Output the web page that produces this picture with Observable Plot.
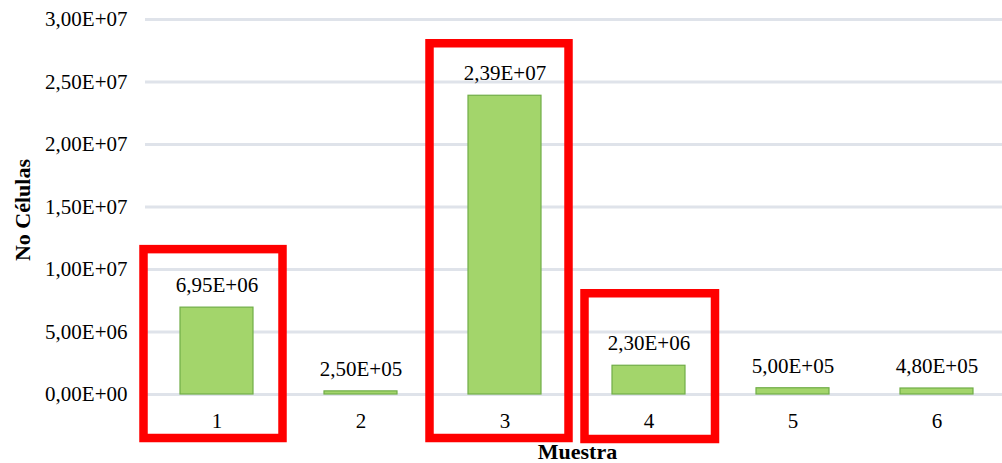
<!DOCTYPE html>
<html>
<head>
<meta charset="utf-8">
<script src="https://cdn.jsdelivr.net/npm/d3@7"></script>
<script src="https://cdn.jsdelivr.net/npm/@observablehq/plot@0.6"></script>
<style>
  html, body { margin: 0; padding: 0; background: #fff; overflow: hidden; }
</style>
</head>
<body>
<div id="chart"></div>
<script>
// Número de células por muestra
const muestras = ["1", "2", "3", "4", "5", "6"];
const celulas = [6.95e6, 2.5e5, 2.39e7, 2.3e6, 5e5, 4.8e5];
// Muestras resaltadas con recuadro rojo
const destacadas = ["1", "3", "4"];
// Marcas del eje vertical
const yTicks = [0, 5e6, 1e7, 1.5e7, 2e7, 2.5e7, 3e7];

const data = muestras.map((m, i) => ({muestra: m, celulas: celulas[i]}));

// Notación científica con coma decimal: 2,39E+07
function sci(v) {
  const [m, e] = v.toExponential(2).split("e");
  const n = Math.abs(+e);
  return m.replace(".", ",") + "E" + (+e < 0 ? "-" : "+") + String(n).padStart(2, "0");
}

const font = "'Liberation Serif', 'Times New Roman', Times, serif";

// Holgura de cada recuadro rojo respecto a su barra (px)
const holgura = {
  "1": {insetLeft: -36.5, insetRight: -29.5, insetTop: -58, insetBottom: -44},
  "3": {insetLeft: -38.5, insetRight: -27.5, insetTop: -52, insetBottom: -44},
  "4": {insetLeft: -27.5, insetRight: -30, insetTop: -72, insetBottom: -45}
};

const recuadros = destacadas.map(m => Plot.barY(data.filter(d => d.muestra === m), {
  x: "muestra", y: "celulas", ...holgura[m],
  fill: "none", stroke: "#ff0000", strokeWidth: 8.5
}));

const chart = Plot.plot({
  width: 1010,
  height: 463,
  marginLeft: 145,
  marginRight: 1,
  marginTop: 19,
  marginBottom: 69,
  style: {fontFamily: font, fontSize: "21px", color: "#000", background: "#fff", maxWidth: "none"},
  x: {type: "band", domain: muestras, paddingInner: 0.493, paddingOuter: 0.2465},
  y: {domain: [0, 3e7]},
  marks: [
    Plot.ruleY(yTicks, {stroke: "#dfe3ea", strokeWidth: 3}),
    Plot.axisY(yTicks, {tickSize: 0, tickPadding: 18, tickFormat: sci, fontSize: 21, label: null}),
    Plot.axisX({tickSize: 0, tickPadding: 19, fontSize: 21, label: null}),
    Plot.barY(data, {x: "muestra", y: "celulas", fill: "#a3d56b", stroke: "#70ad47", strokeWidth: 1.2}),
    Plot.text(data, {x: "muestra", y: "celulas", text: d => sci(d.celulas), dy: -22, fontSize: 21, fill: "#000"}),
    ...recuadros,
    Plot.text(["No Células"], {
      frameAnchor: "left", textAnchor: "middle", lineAnchor: "middle",
      rotate: -90, dx: -123, dy: 3, fontSize: 22, fontWeight: "bold", fill: "#000"
    }),
    Plot.text(["Muestra"], {
      frameAnchor: "bottom", textAnchor: "middle", lineAnchor: "middle",
      dy: 57, fontSize: 22, fontWeight: "bold", fill: "#000"
    })
  ]
});

document.getElementById("chart").appendChild(chart);
</script>
</body>
</html>
